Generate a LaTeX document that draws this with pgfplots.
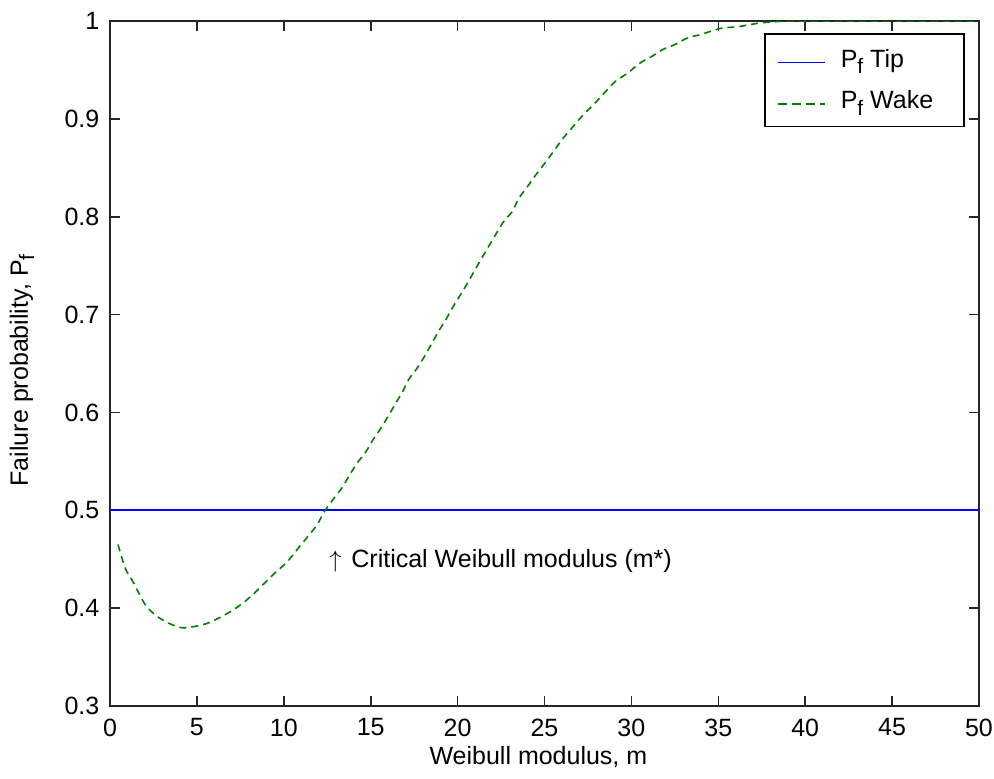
\documentclass[border=0pt]{standalone}
\usepackage{fontspec}
\setmainfont{Liberation Sans}
\usepackage{pgfplots}
\pgfplotsset{compat=1.18}
\definecolor{mblue}{RGB}{0,0,255}
\definecolor{mgreen}{RGB}{0,128,0}
\newcommand{\sub}[1]{\raisebox{-3.2pt}{\fontsize{10.5}{10.5}\selectfont #1}}
\newcommand{\solidkey}{\textcolor{mblue}{\rule[2pt]{23.5pt}{0.8pt}}}
\newcommand{\dashkey}{\textcolor{mgreen}{\rule[2pt]{4.5pt}{0.8pt}\hspace{2.5pt}\rule[2pt]{4.5pt}{0.8pt}\hspace{2.5pt}\rule[2pt]{4.5pt}{0.8pt}\hspace{2.5pt}\rule[2pt]{2.5pt}{0.8pt}}}
\begin{document}
\fontsize{12.5}{14}\selectfont
\begin{tikzpicture}
\begin{axis}[
  at={(0,0)}, anchor=south west,
  scale only axis,
  width=434.5pt, height=342.5pt,
  xmin=0, xmax=50, ymin=0.3, ymax=1,
  xtick={0,5,...,50},
  ytick={0.3,0.4,0.5,0.6,0.7,0.8,0.9,1},
  tick align=inside, tick pos=both,
  major tick length=5pt,
  axis line style={line width=0.8pt, black!85},
  every tick/.style={line width=0.8pt, black!85},
  /pgf/number format/assume math mode=true,
  ticklabel style={font=\fontsize{12.5}{14}\selectfont},
  xticklabel style={yshift=-2pt},
  yticklabel style={xshift=-1pt},
  xlabel={Weibull modulus, m},
  ylabel={Failure probability, P\sub{f}},
  label style={font=\fontsize{12.5}{14}\selectfont},
  xlabel style={at={(axis description cs:0.493,-0.0745)}, anchor=center},
  ylabel style={at={(axis description cs:-0.1013,0.49)}, anchor=center},
  legend style={at={(rel axis cs:1,1)}, anchor=north east, xshift=-7pt, yshift=-6pt,
    line width=0.8pt, font=\fontsize{12.5}{14}\selectfont,
    inner xsep=6.5pt, inner ysep=5pt, row sep=5pt, cells={anchor=west},
    nodes={inner xsep=0pt}},
  legend image code/.code={},
  clip=true,
]
\addplot[color=mblue, line width=0.8pt] coordinates {(0,0.5) (50,0.5)};
\addlegendentry{\solidkey\hspace{8pt}P\sub{f} Tip\strut}
\addplot[color=mgreen, line width=0.8pt, dash pattern=on 3.5pt off 2.5pt, smooth, tension=0.5] coordinates {
(0.46,0.465) (0.69,0.451) (0.92,0.439) (1.32,0.427) (1.73,0.413) (2.13,0.401)
(2.76,0.391) (3.45,0.384) (4.14,0.380) (4.78,0.381) (5.52,0.384) (6.16,0.389)
(6.79,0.395) (7.48,0.403) (8.17,0.413) (8.80,0.424) (9.49,0.436) (10.18,0.447)
(10.82,0.461) (11.33,0.472) (11.91,0.485) (12.31,0.498)
(12.83,0.511) (13.35,0.523) (13.75,0.535) (14.21,0.548) (14.73,0.560)
(15.13,0.572) (15.59,0.584) (16.00,0.596) (16.46,0.610) (16.86,0.622) (17.20,0.634)
(17.66,0.645) (18.12,0.658) (18.53,0.671) (18.87,0.682) (19.33,0.695) (19.74,0.708)
(20.50,0.730) (21.20,0.752) (21.90,0.773) (22.61,0.794) (23.13,0.805) (23.53,0.819)
(23.99,0.830) (24.51,0.843) (25.03,0.855) (25.49,0.866) (26.06,0.880) (26.64,0.892)
(27.22,0.904) (27.79,0.914) (28.42,0.926) (29.06,0.938) (29.80,0.947) (30.49,0.957)
(31.19,0.964) (31.82,0.971) (32.51,0.976) (33.26,0.983) (33.95,0.986) (34.64,0.990)
(35.27,0.993) (36.08,0.994) (36.71,0.996) (37.40,0.998) (38.09,0.999) (39.10,1.000)
(42,1.000) (46,1.000) (50,1.000)
};
\addlegendentry{\dashkey\hspace{8pt}P\sub{f} Wake\strut\rule{9pt}{0pt}}
\node[anchor=base west, inner sep=0pt, font=\fontsize{12.5}{14}\selectfont] at (axis cs:12.6,0.442) {$\uparrow$\hspace{5pt}Critical Weibull modulus (m*)};
\end{axis}
\pgfresetboundingbox
\useasboundingbox (-55pt,-36pt) rectangle (442pt,353pt);
\end{tikzpicture}
\end{document}
